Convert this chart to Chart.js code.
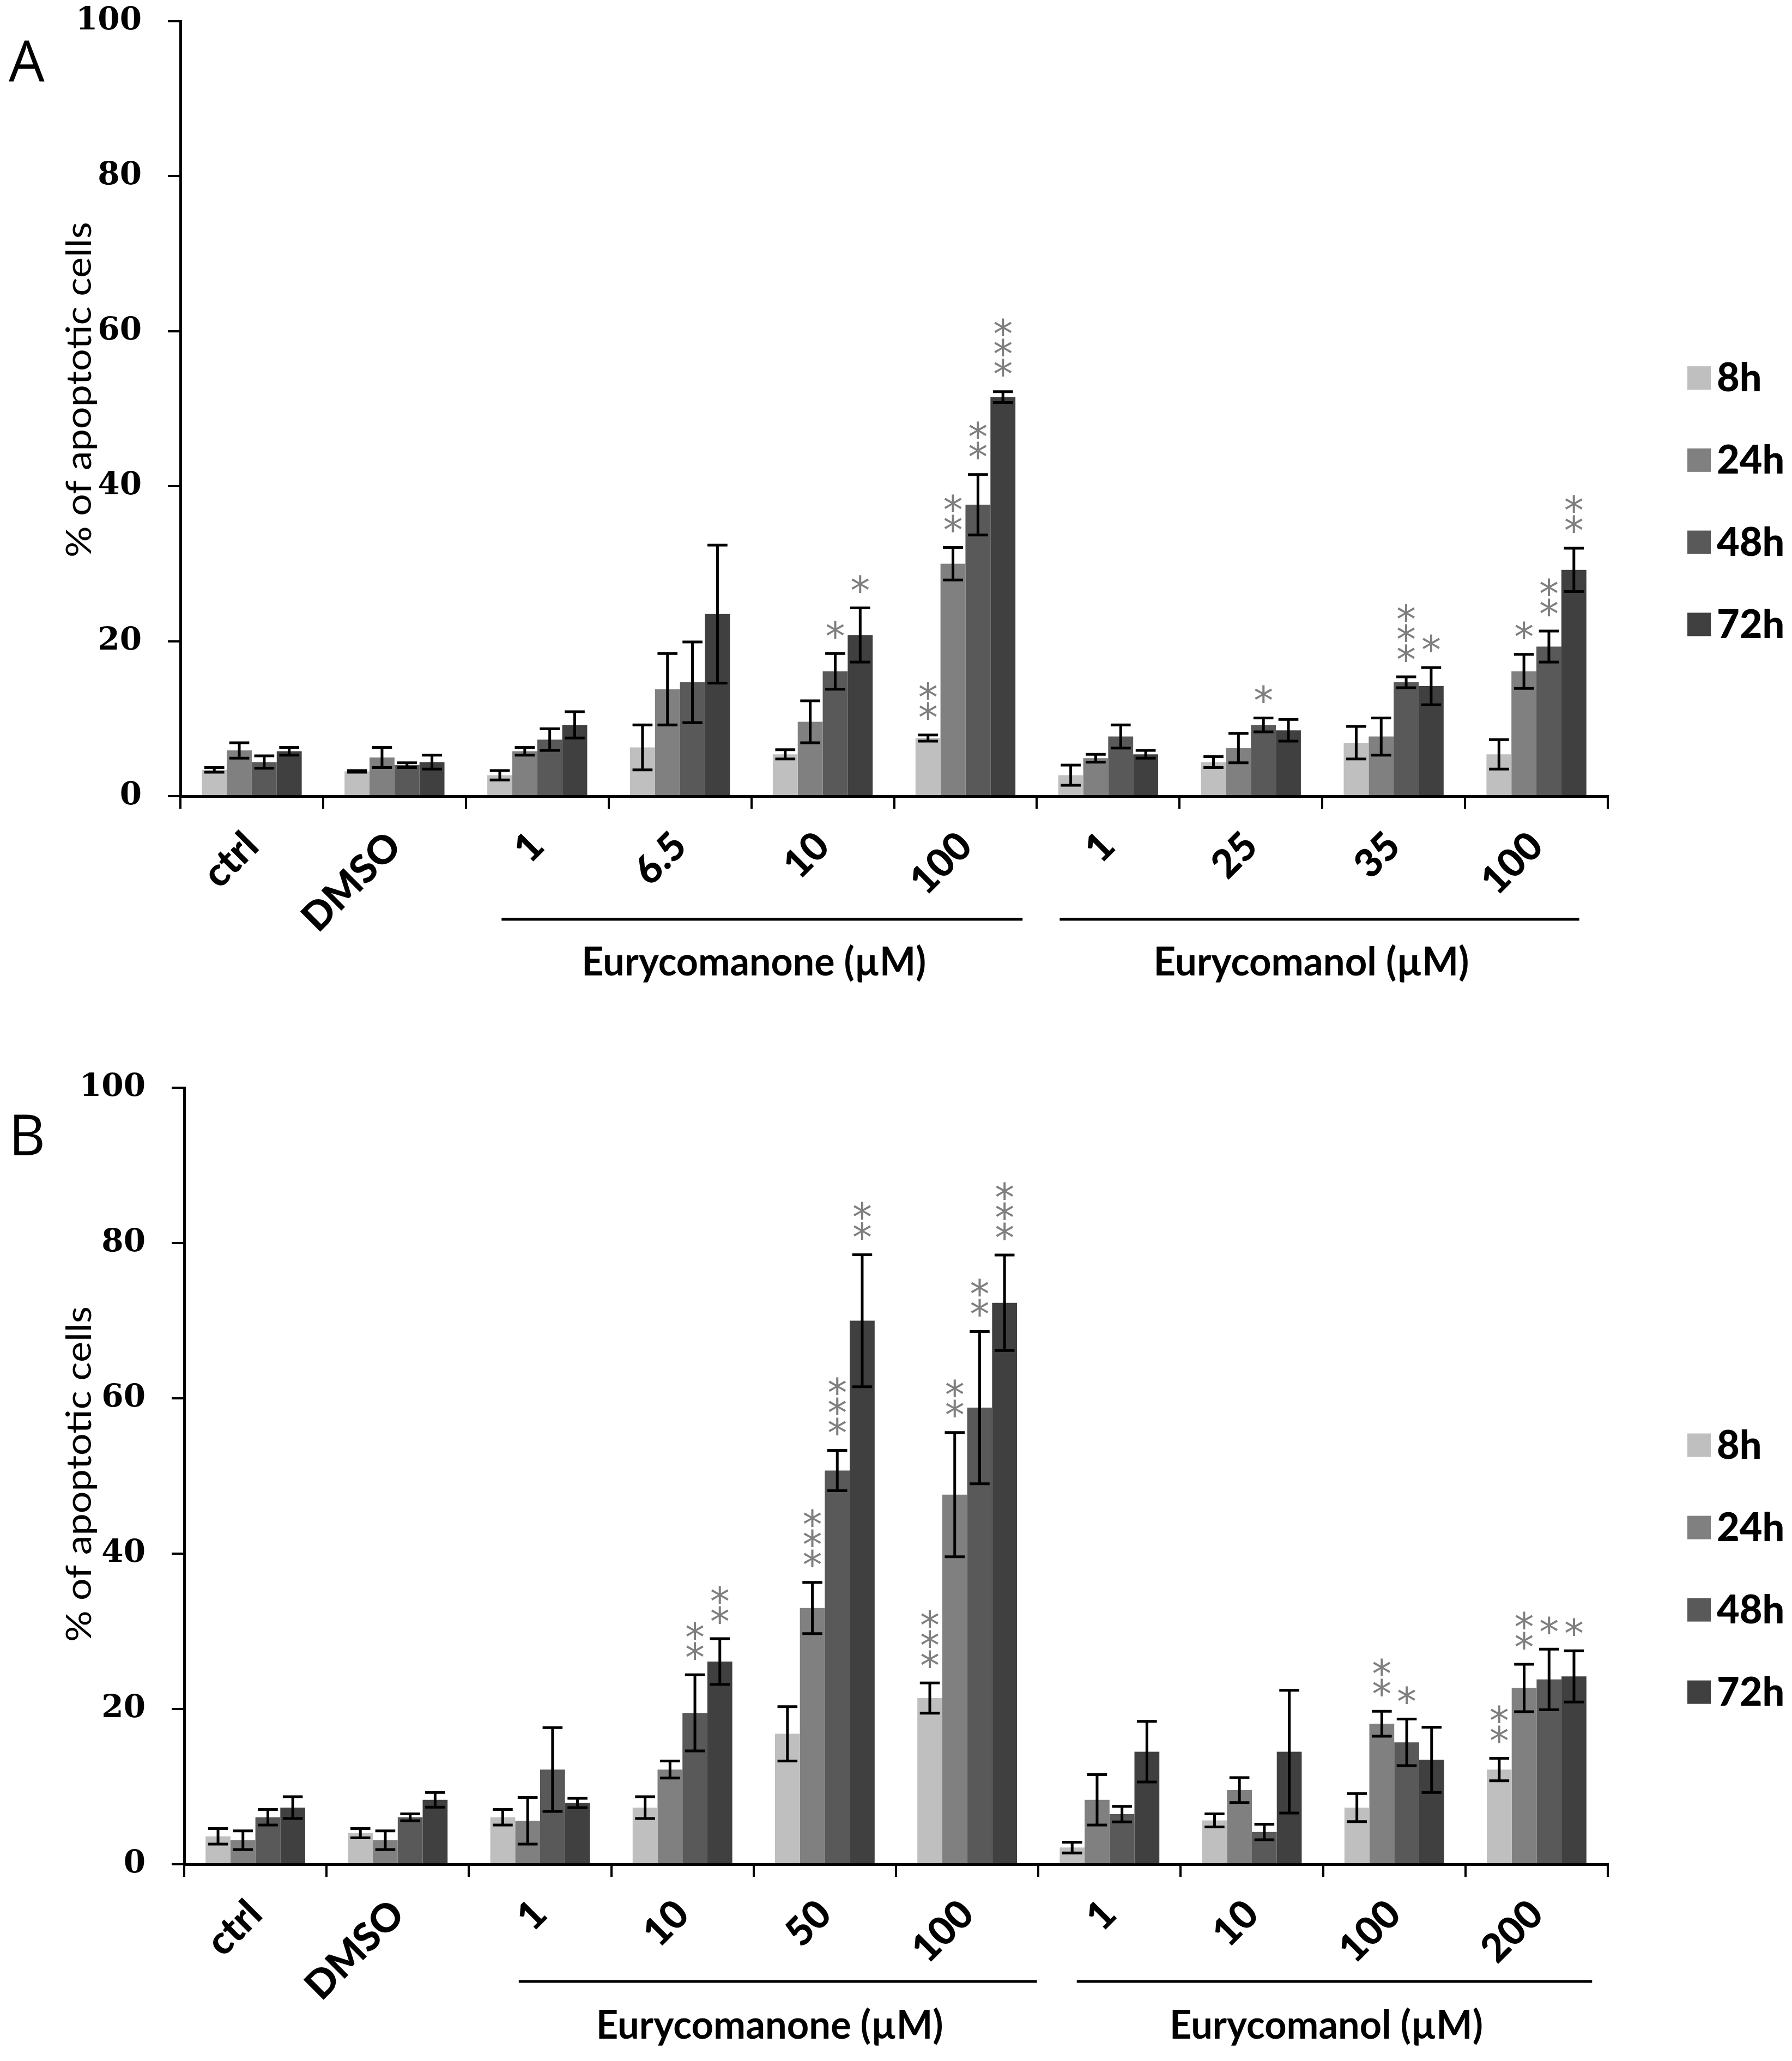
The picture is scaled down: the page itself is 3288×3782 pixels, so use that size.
<!DOCTYPE html>
<html>
<head>
<meta charset="utf-8">
<script src="https://cdn.jsdelivr.net/npm/chart.js@4.4.1/dist/chart.umd.min.js"></script>
<style>
    html, body { margin: 0; padding: 0; background: #fff; }
    #wrap { position: relative; width: 3288px; height: 3782px; background: #fff; }
    #wrap canvas { position: absolute; left: 0; }
    #chartA { top: 0; }
    #chartB { top: 1890px; }
</style>
</head>
<body>
<div id="wrap">
    <canvas id="chartA" width="3288" height="1890"></canvas>
    <canvas id="chartB" width="3288" height="1892"></canvas>
</div>
<script>
/* ---------- data ---------- */
const timePoints = ['8h', '24h', '48h', '72h'];

// Panel A
const categoriesA = ['ctrl', 'DMSO', '1', '6.5', '10', '100', '1', '25', '35', '100'];
const a8h     = [3.4, 3.2, 2.7, 6.3, 5.4, 7.5, 2.7, 4.4, 6.9, 5.4];
const a8hErr  = [0.3, 0.1, 0.6, 2.9, 0.6, 0.4, 1.3, 0.7, 2.1, 1.9];
const a24h    = [5.9, 5.0, 5.8, 13.8, 9.6, 30.0, 4.9, 6.2, 7.7, 16.1];
const a24hErr = [1.0, 1.3, 0.5, 4.6, 2.7, 2.1, 0.5, 1.9, 2.4, 2.2];
const a48h    = [4.4, 4.0, 7.3, 14.7, 16.1, 37.6, 7.7, 9.2, 14.7, 19.3];
const a48hErr = [0.8, 0.3, 1.4, 5.2, 2.3, 3.9, 1.5, 0.9, 0.7, 2.0];
const a72h    = [5.8, 4.4, 9.2, 23.5, 20.8, 51.5, 5.4, 8.5, 14.2, 29.2];
const a72hErr = [0.5, 0.9, 1.7, 8.9, 3.5, 0.7, 0.5, 1.4, 2.4, 2.8];
const a8hStars  = ['', '', '', '', '', '**', '', '', '', ''];
const a24hStars = ['', '', '', '', '', '**', '', '', '', '*'];
const a48hStars = ['', '', '', '', '*', '**', '', '*', '***', '**'];
const a72hStars = ['', '', '', '', '*', '***', '', '', '*', '**'];

// Panel B
const categoriesB = ['ctrl', 'DMSO', '1', '10', '50', '100', '1', '10', '100', '200'];
const b8h     = [3.6, 4.0, 6.05, 7.3, 16.8, 21.4, 2.15, 5.65, 7.3, 12.2];
const b8hErr  = [1.0, 0.6, 1.0, 1.4, 3.5, 1.95, 0.7, 0.85, 1.8, 1.45];
const b24h    = [3.1, 3.1, 5.6, 12.2, 33.0, 47.6, 8.3, 9.55, 18.1, 22.7];
const b24hErr = [1.2, 1.2, 3.0, 1.1, 3.3, 8.0, 3.25, 1.6, 1.6, 3.05];
const b48h    = [6.05, 6.05, 12.2, 19.5, 50.7, 58.8, 6.45, 4.15, 15.7, 23.8];
const b48hErr = [1.0, 0.45, 5.4, 4.9, 2.6, 9.8, 1.0, 1.0, 3.0, 3.9];
const b72h    = [7.3, 8.3, 7.9, 26.1, 70.0, 72.3, 14.5, 14.5, 13.45, 24.2];
const b72hErr = [1.4, 0.95, 0.6, 2.95, 8.5, 6.15, 3.9, 7.9, 4.2, 3.3];
const b8hStars  = ['', '', '', '', '', '***', '', '', '', '**'];
const b24hStars = ['', '', '', '', '***', '**', '', '', '**', '**'];
const b48hStars = ['', '', '', '**', '***', '**', '', '', '*', '*'];
const b72hStars = ['', '', '', '**', '**', '***', '', '', '', '*'];

const yTicks = [0, 20, 40, 60, 80, 100];

/* ---------- styles ---------- */
const seriesColors = ['#bfbfbf', '#808080', '#595959', '#404040'];
const starColor = '#7f7f7f';
Chart.defaults.font.family = 'Lato, "Open Sans", sans-serif';

function fitText(ctx, text, x, y, targetW) {
    const w = ctx.measureText(text).width;
    ctx.save();
    ctx.translate(x, y);
    ctx.scale(targetW / w, 1);
    ctx.fillText(text, 0, 0);
    ctx.restore();
}

function decorPlugin(cfg) {
    return {
        id: 'decor',
        afterDatasetsDraw(chart) {
            const ctx = chart.ctx;
            const yScale = chart.scales.y;
            ctx.save();
            chart.data.datasets.forEach((ds, di) => {
                const meta = chart.getDatasetMeta(di);
                meta.data.forEach((bar, i) => {
                    const v = ds.data[i];
                    const e = cfg.errors[di][i];
                    const top = yScale.getPixelForValue(v + e);
                    const bot = yScale.getPixelForValue(Math.max(v - e, 0));
                    const half = bar.width * 0.4;

                    // error bar
                    ctx.strokeStyle = '#000';
                    ctx.lineWidth = 5;
                    ctx.beginPath();
                    ctx.moveTo(bar.x, top); ctx.lineTo(bar.x, bot);
                    ctx.moveTo(bar.x - half, top); ctx.lineTo(bar.x + half, top);
                    ctx.moveTo(bar.x - half, bot); ctx.lineTo(bar.x + half, bot);
                    ctx.stroke();

                    // significance stars
                    const s = cfg.stars[di][i];
                    if (s) {
                        ctx.fillStyle = starColor;
                        ctx.font = '72px "DejaVu Sans"';
                        ctx.textAlign = 'center';
                        ctx.textBaseline = 'alphabetic';
                        const m = ctx.measureText('*');
                        const shift = (m.actualBoundingBoxAscent - m.actualBoundingBoxDescent) / 2;
                        for (let k = 0; k < s.length; k++) {
                            const cy = top - 44 - k * 37;
                            ctx.fillText('*', bar.x, cy + shift);
                        }
                    }
                });
            });
            ctx.restore();
        },
        afterDraw(chart) {
            const ctx = chart.ctx;
            const area = chart.chartArea;
            const h = area.bottom - area.top;
            const cw = (area.right - area.left) / chart.data.labels.length;
            ctx.save();

            // legend
            chart.data.datasets.forEach((ds, i) => {
                const cy = area.top + 0.46 * h + i * 0.106 * h;
                ctx.fillStyle = ds.backgroundColor;
                ctx.fillRect(3096, cy - 21, 43, 43);
                ctx.fillStyle = '#000';
                ctx.font = '900 72px Lato';
                ctx.textAlign = 'left';
                ctx.textBaseline = 'middle';
                ctx.fillText(ds.label, 3150, cy + 2);
            });

            // group brackets and labels
            cfg.groups.forEach(g => {
                const x0 = area.left + g.from * cw;
                const x1 = area.left + g.to * cw;
                ctx.strokeStyle = '#000';
                ctx.lineWidth = 5;
                ctx.beginPath();
                ctx.moveTo(x0, cfg.groupLineY); ctx.lineTo(x1, cfg.groupLineY);
                ctx.stroke();
                ctx.fillStyle = '#000';
                ctx.font = 'bold 72px Lato';
                ctx.textAlign = 'center';
                ctx.textBaseline = 'middle';
                fitText(ctx, g.label, (x0 + x1) / 2 - 15, cfg.groupLabelY, g.width);
            });

            // y axis title
            ctx.save();
            ctx.translate(146, cfg.titleY);
            ctx.rotate(-Math.PI / 2);
            ctx.fillStyle = '#000';
            ctx.font = '64px Lato';
            ctx.textAlign = 'center';
            ctx.textBaseline = 'middle';
            fitText(ctx, '% of apoptotic cells', 0, 0, 616);
            ctx.restore();

            // panel letter
            ctx.fillStyle = '#000';
            ctx.font = '104px "Open Sans"';
            ctx.textAlign = 'left';
            ctx.textBaseline = 'alphabetic';
            ctx.fillText(cfg.letter, 16, cfg.letterY);

            ctx.restore();
        }
    };
}

function buildChart(canvasId, cfg) {
    const canvas = document.getElementById(canvasId);
    return new Chart(canvas, {
        type: 'bar',
        data: {
            labels: cfg.labels,
            datasets: timePoints.map((tp, i) => ({
                label: tp,
                data: cfg.series[i],
                backgroundColor: seriesColors[i],
                borderWidth: 0,
                categoryPercentage: 0.7,
                barPercentage: 1.0
            }))
        },
        options: {
            responsive: false,
            devicePixelRatio: 1,
            animation: false,
            layout: { padding: { left: 0, top: cfg.area.top, right: canvas.width - cfg.area.right, bottom: 0 } },
            plugins: { legend: { display: false }, tooltip: { enabled: false } },
            scales: {
                x: {
                    grid: { drawOnChartArea: false, drawTicks: true, tickLength: 23, color: '#000', lineWidth: 4 },
                    border: { display: true, color: '#000', width: 5 },
                    ticks: {
                        color: '#000',
                        font: { family: 'Lato', weight: '900', size: 72 },
                        minRotation: 45,
                        maxRotation: 45,
                        autoSkip: false,
                        padding: 26
                    },
                    afterFit: s => {
                        s.height = canvas.height - cfg.area.bottom;
                        s.paddingLeft = 0;
                        s.paddingRight = 0;
                    }
                },
                y: {
                    min: 0,
                    max: 100,
                    afterBuildTicks: s => { s.ticks = yTicks.map(v => ({ value: v })); },
                    grid: { drawOnChartArea: false, drawTicks: true, tickLength: 23, color: '#000', lineWidth: 4 },
                    border: { display: true, color: '#000', width: 5 },
                    ticks: {
                        color: '#000',
                        font: { family: '"DejaVu Serif"', weight: 'bold', size: 58 },
                        padding: 48
                    },
                    afterFit: s => {
                        s.width = cfg.area.left;
                        s.paddingTop = 0;
                        s.paddingBottom = 0;
                    }
                }
            }
        },
        plugins: [decorPlugin(cfg)]
    });
}

buildChart('chartA', {
    labels: categoriesA,
    series: [a8h, a24h, a48h, a72h],
    errors: [a8hErr, a24hErr, a48hErr, a72hErr],
    stars: [a8hStars, a24hStars, a48hStars, a72hStars],
    area: { left: 331, top: 39, right: 2950, bottom: 1461 },
    groups: [
        { label: 'Eurycomanone (µM)', from: 2.25, to: 5.9, width: 632 },
        { label: 'Eurycomanol (µM)', from: 6.16, to: 9.8, width: 579 }
    ],
    groupLineY: 1687,
    groupLabelY: 1767,
    titleY: 715,
    letter: 'A',
    letterY: 150
});

buildChart('chartB', {
    labels: categoriesB,
    series: [b8h, b24h, b48h, b72h],
    errors: [b8hErr, b24hErr, b48hErr, b72hErr],
    stars: [b8hStars, b24hStars, b48hStars, b72hStars],
    area: { left: 338, top: 106, right: 2950, bottom: 1531 },
    groups: [
        { label: 'Eurycomanone (µM)', from: 2.35, to: 5.99, width: 637 },
        { label: 'Eurycomanol (µM)', from: 6.27, to: 9.89, width: 575 }
    ],
    groupLineY: 1746,
    groupLabelY: 1828,
    titleY: 815,
    letter: 'B',
    letterY: 230
});
</script>
</body>
</html>
